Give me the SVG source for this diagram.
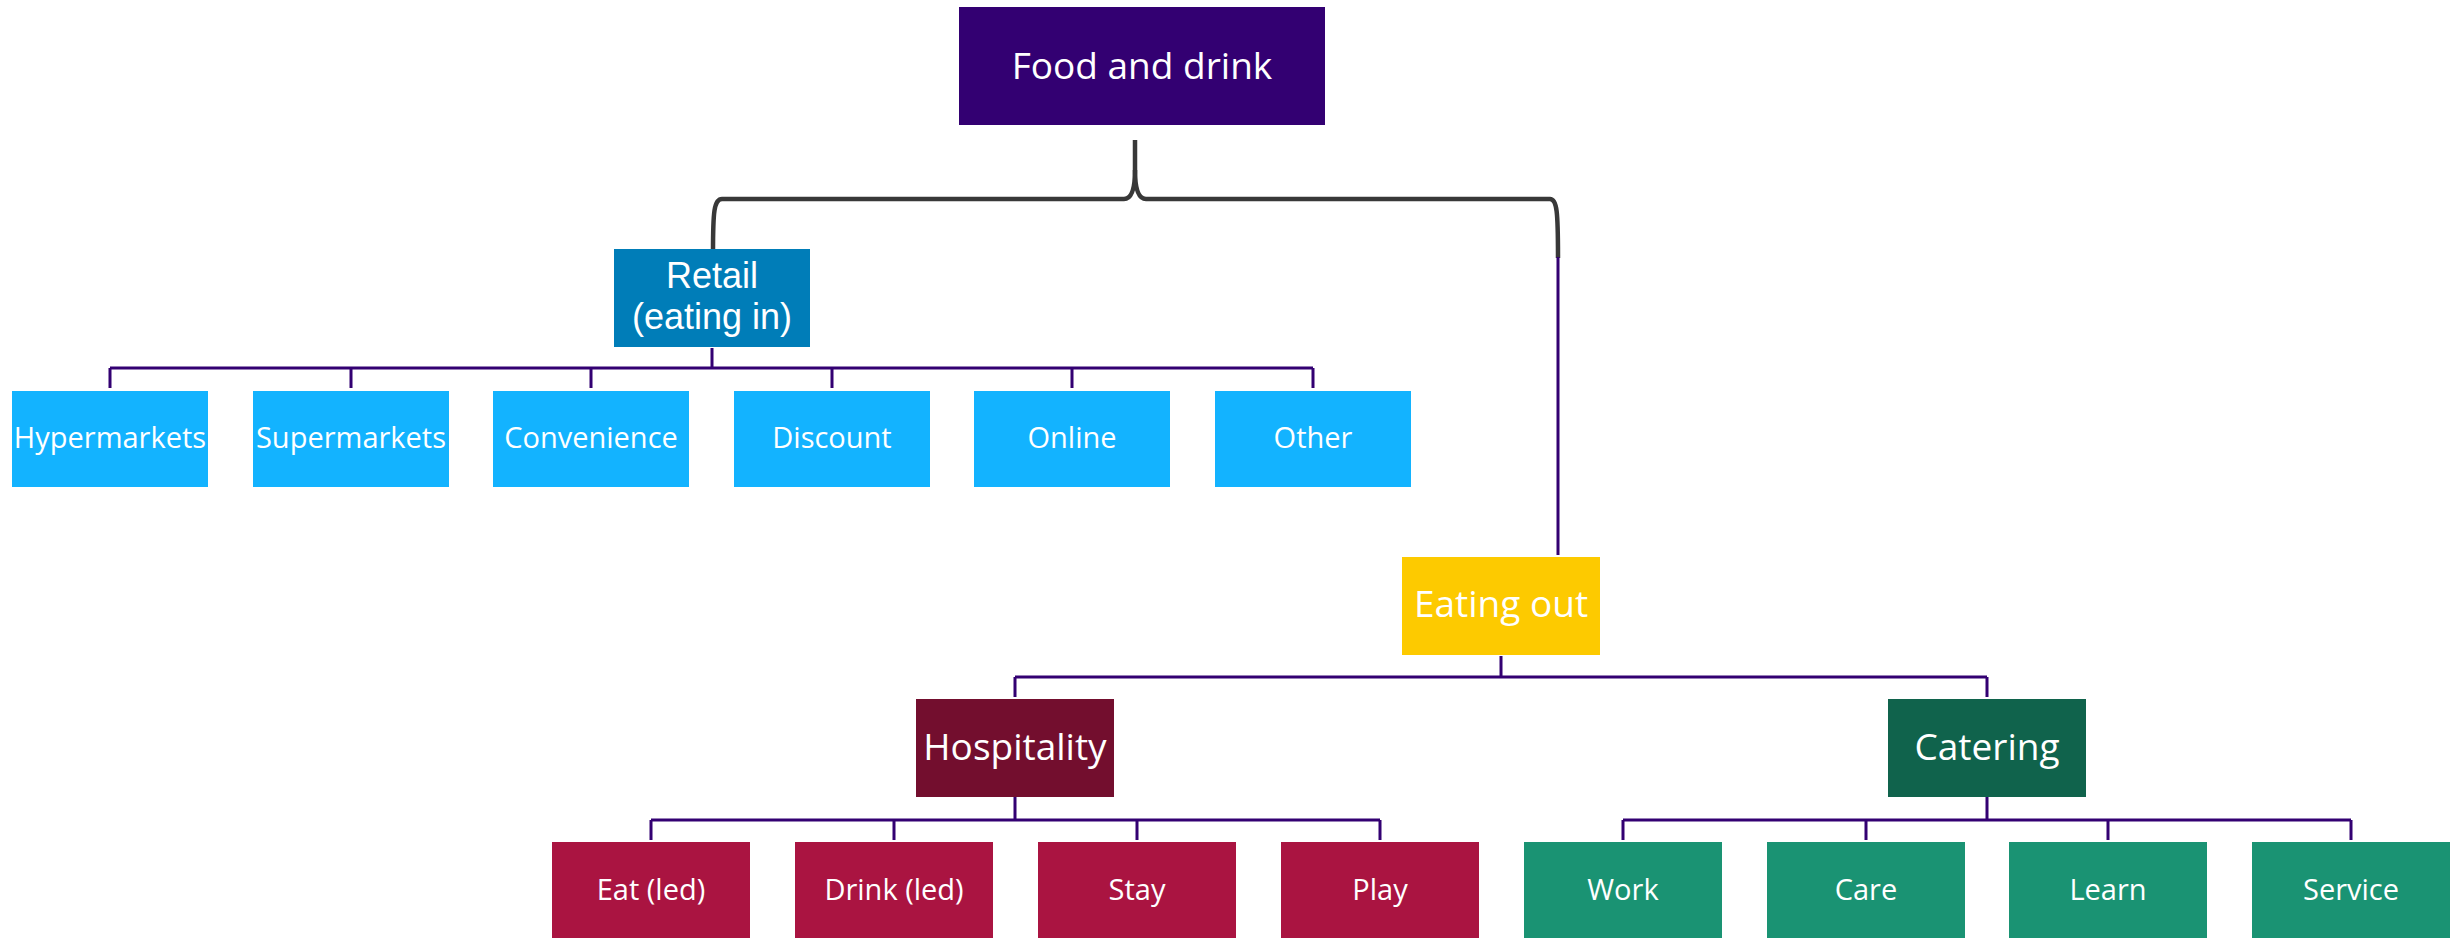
<svg xmlns="http://www.w3.org/2000/svg" width="2463" height="938" viewBox="0 0 2463 938">
<style>
.t{font-family:"Open Sans","Liberation Sans",sans-serif;fill:#ffffff;text-anchor:middle}
.big{font-size:37px}
.mid{font-family:"Liberation Sans",Arial,sans-serif;font-size:36px}
.sm{font-size:29px}
.c{fill:none;stroke:#330072;stroke-width:3}
.br{fill:none;stroke:#383838;stroke-width:4.5}
</style>
<rect width="2463" height="938" fill="#ffffff"/>
<g id="connectors">
<path class="br" d="M1135,140 L1135,170 C1135,190 1131,199 1124,199 L722,199 C714,199 713,212 713,252"/>
<path class="br" d="M1135,170 C1135,190 1139,199 1146,199 L1550,199 C1557,199 1558,212 1558,258"/>
<path class="c" d="M1558,257 L1558,555"/>
<path class="c" d="M712,348 L712,368 M110,368 L1313,368 M110,368 L110,388 M351,368 L351,388 M591,368 L591,388 M832,368 L832,388 M1072,368 L1072,388 M1313,368 L1313,388"/>
<path class="c" d="M1501,656 L1501,677 M1015,677 L1987,677 M1015,677 L1015,697 M1987,677 L1987,697"/>
<path class="c" d="M1015,797 L1015,820 M651,820 L1380,820 M651,820 L651,840 M894,820 L894,840 M1137,820 L1137,840 M1380,820 L1380,840"/>
<path class="c" d="M1987,797 L1987,820 M1623,820 L2351,820 M1623,820 L1623,840 M1866,820 L1866,840 M2108,820 L2108,840 M2351,820 L2351,840"/>
</g>
<g id="food-and-drink"><rect x="959" y="7" width="366" height="118" fill="#330072"/><text class="t big" x="1142" y="79">Food and drink</text></g>
<g id="retail"><rect x="614" y="249" width="196" height="98" fill="#007DB8"/><text class="t mid" x="712" y="288">Retail</text><text class="t mid" x="712" y="329">(eating in)</text></g>
<g id="hypermarkets"><rect x="12" y="391" width="196" height="96" fill="#13B3FF"/><text class="t sm" x="110" y="448">Hypermarkets</text></g>
<g id="supermarkets"><rect x="253" y="391" width="196" height="96" fill="#13B3FF"/><text class="t sm" x="351" y="448">Supermarkets</text></g>
<g id="convenience"><rect x="493" y="391" width="196" height="96" fill="#13B3FF"/><text class="t sm" x="591" y="448">Convenience</text></g>
<g id="discount"><rect x="734" y="391" width="196" height="96" fill="#13B3FF"/><text class="t sm" x="832" y="448">Discount</text></g>
<g id="online"><rect x="974" y="391" width="196" height="96" fill="#13B3FF"/><text class="t sm" x="1072" y="448">Online</text></g>
<g id="other"><rect x="1215" y="391" width="196" height="96" fill="#13B3FF"/><text class="t sm" x="1313" y="448">Other</text></g>
<g id="eating-out"><rect x="1402" y="557" width="198" height="98" fill="#FDCA00"/><text class="t big" x="1501" y="617">Eating out</text></g>
<g id="hospitality"><rect x="916" y="699" width="198" height="98" fill="#730E2E"/><text class="t big" x="1015" y="760">Hospitality</text></g>
<g id="catering"><rect x="1888" y="699" width="198" height="98" fill="#10634C"/><text class="t big" x="1987" y="760">Catering</text></g>
<g id="eat-led"><rect x="552" y="842" width="198" height="96" fill="#AA1441"/><text class="t sm" x="651" y="900">Eat (led)</text></g>
<g id="drink-led"><rect x="795" y="842" width="198" height="96" fill="#AA1441"/><text class="t sm" x="894" y="900">Drink (led)</text></g>
<g id="stay"><rect x="1038" y="842" width="198" height="96" fill="#AA1441"/><text class="t sm" x="1137" y="900">Stay</text></g>
<g id="play"><rect x="1281" y="842" width="198" height="96" fill="#AA1441"/><text class="t sm" x="1380" y="900">Play</text></g>
<g id="work"><rect x="1524" y="842" width="198" height="96" fill="#1A9373"/><text class="t sm" x="1623" y="900">Work</text></g>
<g id="care"><rect x="1767" y="842" width="198" height="96" fill="#1A9373"/><text class="t sm" x="1866" y="900">Care</text></g>
<g id="learn"><rect x="2009" y="842" width="198" height="96" fill="#1A9373"/><text class="t sm" x="2108" y="900">Learn</text></g>
<g id="service"><rect x="2252" y="842" width="198" height="96" fill="#1A9373"/><text class="t sm" x="2351" y="900">Service</text></g>
</svg>
